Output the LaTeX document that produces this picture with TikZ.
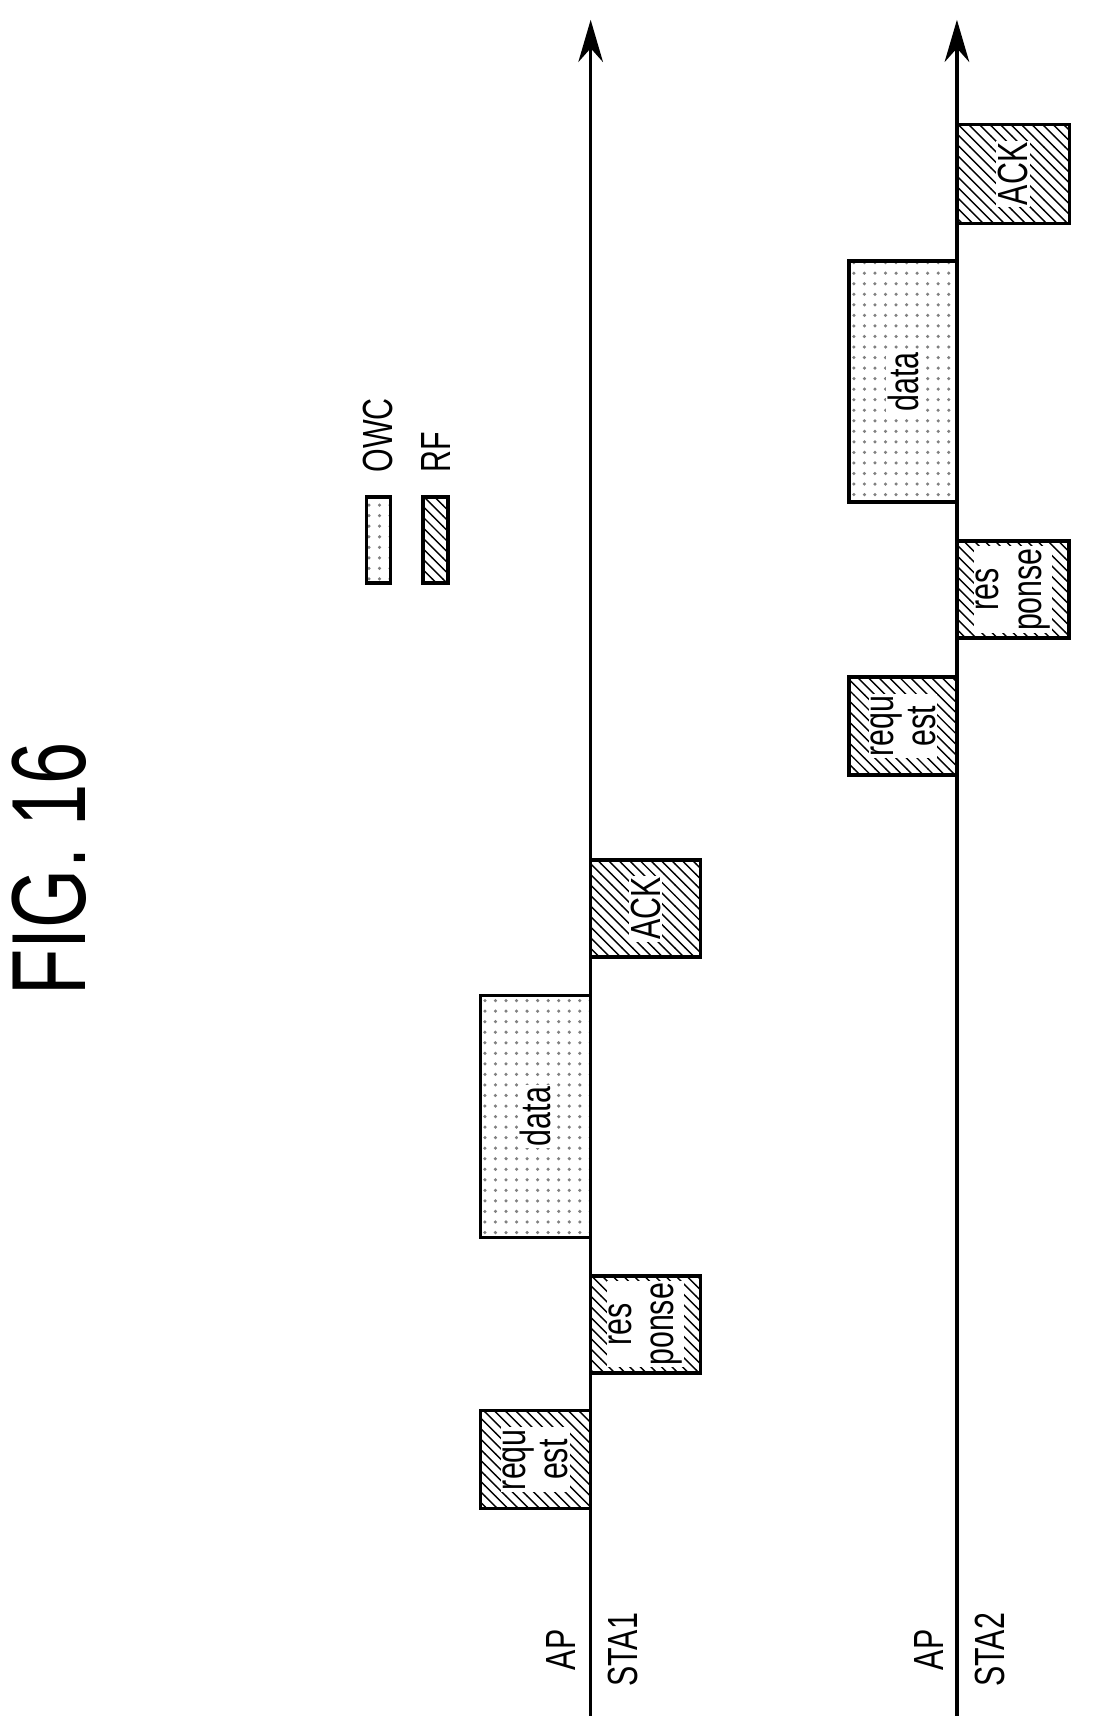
\documentclass[tikz,border=0pt]{standalone}
\usepackage{fontspec}
\setmainfont{Liberation Sans}
\newfontfamily\condfont[FakeStretch=0.72]{Liberation Sans}
\usetikzlibrary{patterns,arrows.meta}

\begin{document}
\begin{tikzpicture}[x=0.011cm, y=-0.011cm,
    rf/.style={draw, line width=1pt, pattern=north west lines, minimum width=1.1cm},
    owc/.style={draw, line width=1pt, pattern=dots, pattern color=gray, minimum width=1.1cm},
    lbl/.style={fill=white, inner sep=0.5pt, rotate=90, align=center, font=\condfont\fontsize{12}{12}\selectfont},
    tag/.style={rotate=90, font=\condfont\fontsize{12}{14}\selectfont}]
    \useasboundingbox (0,0) rectangle (994,1571);

    % Title
    \node[rotate=90, font=\condfont\fontsize{30}{32}\selectfont] (title) at (45,790) {FIG. 16};

    % Time axes
    \coordinate (a1s) at (537,1560); \coordinate (a1e) at (537,18);
    \coordinate (a2s) at (870,1560); \coordinate (a2e) at (870,18);
    \draw[line width=1pt, -{Stealth[length=12pt, width=7pt]}] (a1s) -- (a1e);
    \draw[line width=1pt, -{Stealth[length=12pt, width=7pt]}] (a2s) -- (a2e);

    % Axis labels
    \node[tag] (ap1) at (510,1500) {AP};
    \node[tag] (sta1) at (566,1500) {STA1};
    \node[tag] (ap2) at (845,1500) {AP};
    \node[tag] (sta2) at (900,1500) {STA2};

    % Legend
    \node[owc, minimum width=0.24cm, minimum height=0.86cm] (lgowc) at (344,491) {};
    \node[rf, minimum width=0.25cm, minimum height=0.86cm] (lgrf) at (396,491) {};
    \node[tag, anchor=west] (towc) at ([yshift=3pt]lgowc.north) {OWC};
    \node[tag, anchor=west] (trf) at ([yshift=3pt]lgrf.north) {RF};

    % STA1 exchange
    \node[rf, minimum height=0.98cm] (req1) at (487,1327) {};
    \node[lbl] at (req1) {requ\\est};
    \node[rf, minimum height=0.97cm] (res1) at (587,1204) {};
    \node[lbl] at (res1) {res\\ponse};
    \node[owc, minimum height=2.42cm] (dat1) at (487,1015) {};
    \node[lbl] at (dat1) {data};
    \node[rf, minimum height=0.97cm] (ack1) at (587,826) {};
    \node[lbl] at (ack1) {ACK};

    % STA2 exchange
    \node[rf, minimum width=1.08cm, minimum height=0.98cm] (req2) at (821,660) {};
    \node[lbl] at (req2) {requ\\est};
    \node[rf, minimum width=1.12cm, minimum height=0.97cm] (res2) at (921,536) {};
    \node[lbl] at (res2) {res\\ponse};
    \node[owc, minimum width=1.08cm, minimum height=2.41cm] (dat2) at (821,347) {};
    \node[lbl] at (dat2) {data};
    \node[rf, minimum width=1.13cm, minimum height=0.99cm] (ack2) at (921,158) {};
    \node[lbl] at (ack2) {ACK};
\end{tikzpicture}
\end{document}
